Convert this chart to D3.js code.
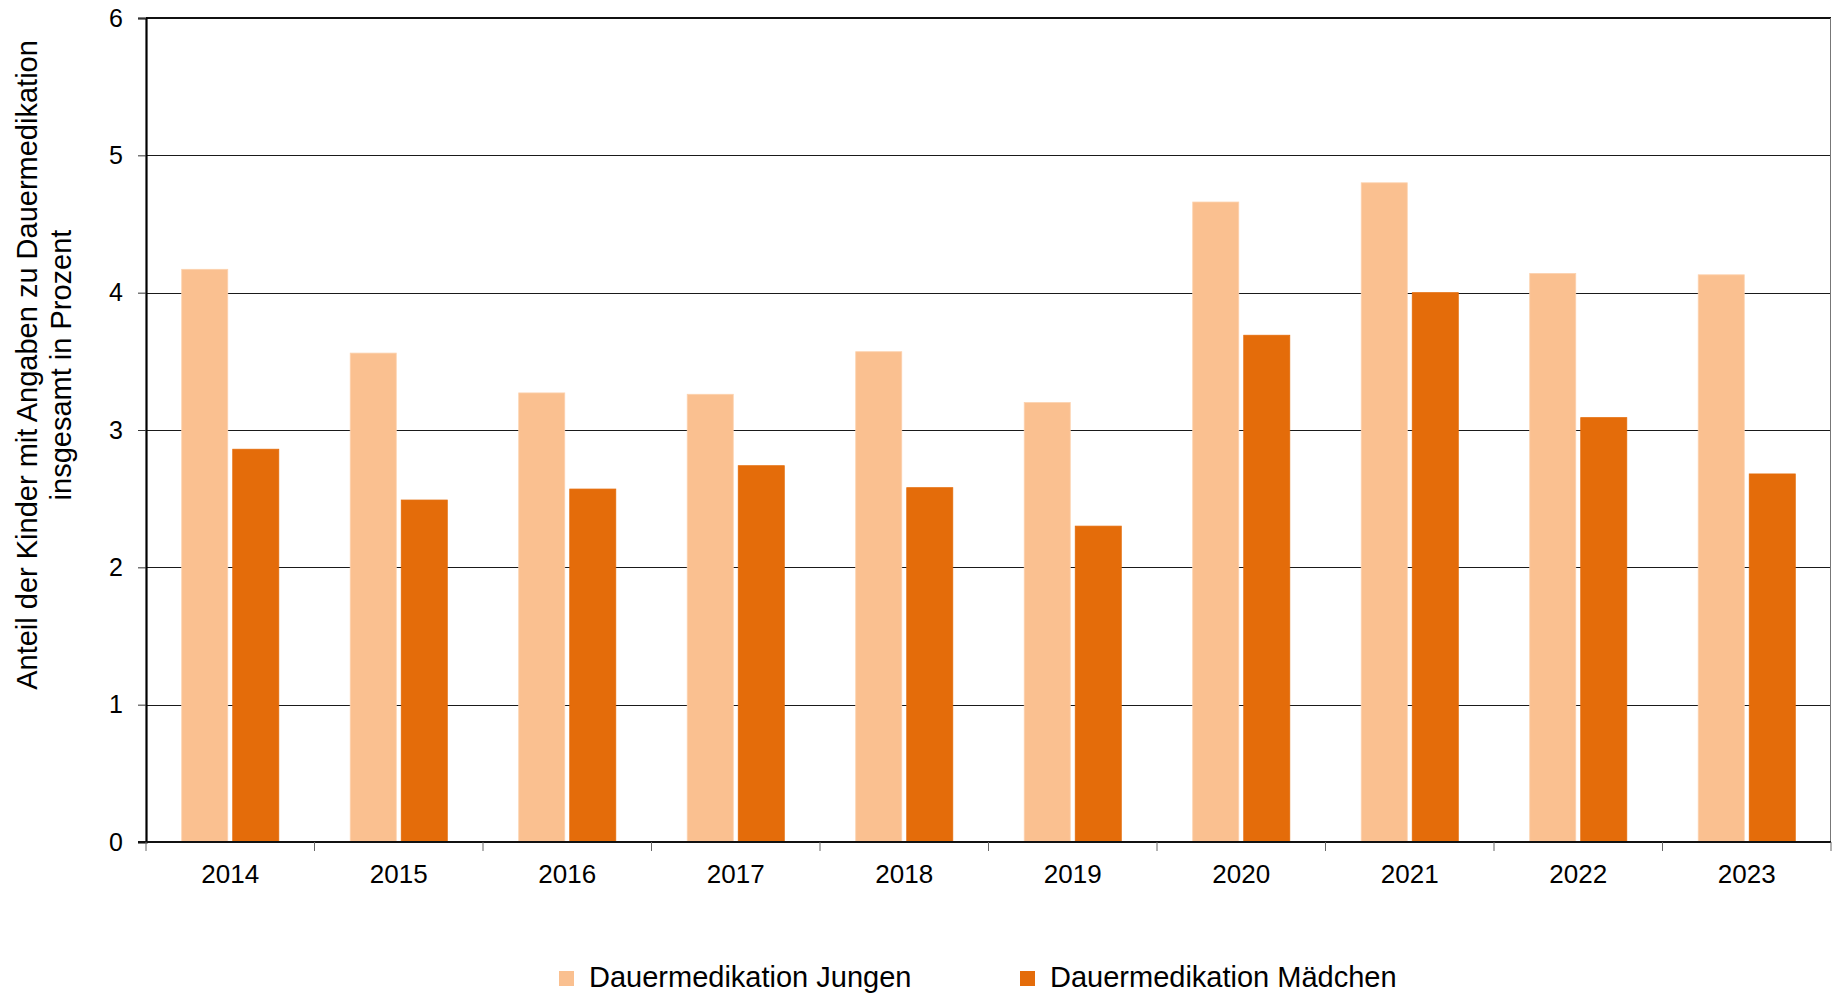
<!DOCTYPE html>
<html>
<head>
<meta charset="utf-8">
<style>
  body { margin: 0; background: #fff; }
  svg { display: block; font-family: Arial, "Liberation Sans", sans-serif; }
</style>
</head>
<body>
<svg id="chart"></svg>
<script src="https://d3js.org/d3.v7.min.js"></script>
<script>

  var years = ["2014", "2015", "2016", "2017", "2018", "2019", "2020", "2021", "2022", "2023"];
  var seriesNames = ["Dauermedikation Jungen", "Dauermedikation Mädchen"];
  var jungen = [4.17, 3.56, 3.27, 3.26, 3.57, 3.20, 4.66, 4.80, 4.14, 4.13];
  var maedchen = [2.86, 2.49, 2.57, 2.74, 2.58, 2.30, 3.69, 4.00, 3.09, 2.68];
  var yTicks = [0, 1, 2, 3, 4, 5, 6];
  var titleLines = ["Anteil der Kinder mit Angaben zu Dauermedikation", "insgesamt in Prozent"];

  var colors = ["#FAC090", "#E46C0A"];
  var strokes = ["#FCD2AE", "#E46C0A"];

  var width = 1832, height = 997;
  var plotLeft = 146, plotRight = 1831, plotTop = 18, plotBottom = 842;

  var svg = d3.select("#chart")
    .attr("width", width)
    .attr("height", height);

  var x = d3.scaleBand()
    .domain(years)
    .range([plotLeft, plotRight]);

  var x1 = d3.scaleBand()
    .domain([0, 1])
    .range([0, x.bandwidth()])
    .paddingInner(0.098)
    .paddingOuter(0.70);

  var y = d3.scaleLinear()
    .domain([0, 6])
    .range([plotBottom, plotTop]);

  // gridlines
  svg.append("g")
    .selectAll("line")
    .data(yTicks.filter(function(d) { return d > 0 && d < 6; }))
    .enter().append("line")
    .attr("x1", plotLeft)
    .attr("x2", plotRight)
    .attr("y1", function(d) { return Math.round(y(d)) + 0.5; })
    .attr("y2", function(d) { return Math.round(y(d)) + 0.5; })
    .attr("stroke", "#1a1a1a")
    .attr("stroke-width", 1.2);

  // top and right frame
  svg.append("line")
    .attr("x1", plotLeft).attr("x2", plotRight)
    .attr("y1", plotTop).attr("y2", plotTop)
    .attr("stroke", "#111").attr("stroke-width", 2);
  svg.append("line")
    .attr("x1", plotRight - 0.5).attr("x2", plotRight - 0.5)
    .attr("y1", plotTop).attr("y2", plotBottom)
    .attr("stroke", "#777").attr("stroke-width", 1);

  // bars
  var rows = years.map(function(yr, i) {
    return {year: yr, values: [jungen[i], maedchen[i]]};
  });

  var groups = svg.append("g")
    .selectAll("g")
    .data(rows)
    .enter().append("g")
    .attr("transform", function(d) { return "translate(" + x(d.year) + ",0)"; });

  groups.selectAll("rect")
    .data(function(d) { return d.values; })
    .enter().append("rect")
    .attr("x", function(d, i) { return x1(i); })
    .attr("width", x1.bandwidth())
    .attr("y", function(d) { return y(d); })
    .attr("height", function(d) { return y(0) - y(d); })
    .attr("fill", function(d, i) { return colors[i]; })
    .attr("stroke", function(d, i) { return strokes[i]; })
    .attr("stroke-width", 0.8);

  // y axis
  var yAxis = d3.axisLeft(y)
    .tickValues(yTicks)
    .tickSize(8)
    .tickPadding(15)
    .tickFormat(d3.format("d"));

  var gy = svg.append("g")
    .attr("transform", "translate(" + plotLeft + ",0)")
    .call(yAxis);
  gy.select(".domain").attr("stroke", "#000").attr("stroke-width", 2.2);
  gy.selectAll(".tick line").attr("stroke", "#333");
  gy.selectAll(".tick text")
    .attr("fill", "#000")
    .style("font-size", "25px");

  // x axis
  var gx = svg.append("g")
    .attr("transform", "translate(0," + plotBottom + ")");
  gx.append("line")
    .attr("x1", plotLeft - 8).attr("x2", plotRight)
    .attr("stroke", "#111").attr("stroke-width", 2.2);
  gx.selectAll(".xtick")
    .data(years.concat(["end"]))
    .enter().append("line")
    .attr("class", "xtick")
    .attr("x1", function(d, i) { return plotLeft + i * x.step(); })
    .attr("x2", function(d, i) { return plotLeft + i * x.step(); })
    .attr("y1", 0)
    .attr("y2", 9)
    .attr("stroke", "#666");
  gx.selectAll("text")
    .data(years)
    .enter().append("text")
    .attr("x", function(d) { return x(d) + x.bandwidth() / 2; })
    .attr("y", 41)
    .attr("text-anchor", "middle")
    .style("font-size", "26px")
    .text(function(d) { return d; });

  // y title
  svg.append("text")
    .attr("transform", "translate(37,365) rotate(-90)")
    .attr("text-anchor", "middle")
    .style("font-size", "29px")
    .selectAll("tspan")
    .data(titleLines)
    .enter().append("tspan")
    .attr("x", 0)
    .attr("dy", function(d, i) { return i === 0 ? 0 : 34; })
    .text(function(d) { return d; });

  // legend
  var legendX = [559, 1020];
  var legend = svg.append("g")
    .selectAll("g")
    .data(seriesNames)
    .enter().append("g")
    .attr("transform", function(d, i) { return "translate(" + legendX[i] + ",971)"; });
  legend.append("rect")
    .attr("width", 15)
    .attr("height", 15)
    .attr("fill", function(d, i) { return colors[i]; });
  legend.append("text")
    .attr("x", 30)
    .attr("y", 16)
    .style("font-size", "29px")
    .text(function(d) { return d; });

</script>
</body>
</html>
